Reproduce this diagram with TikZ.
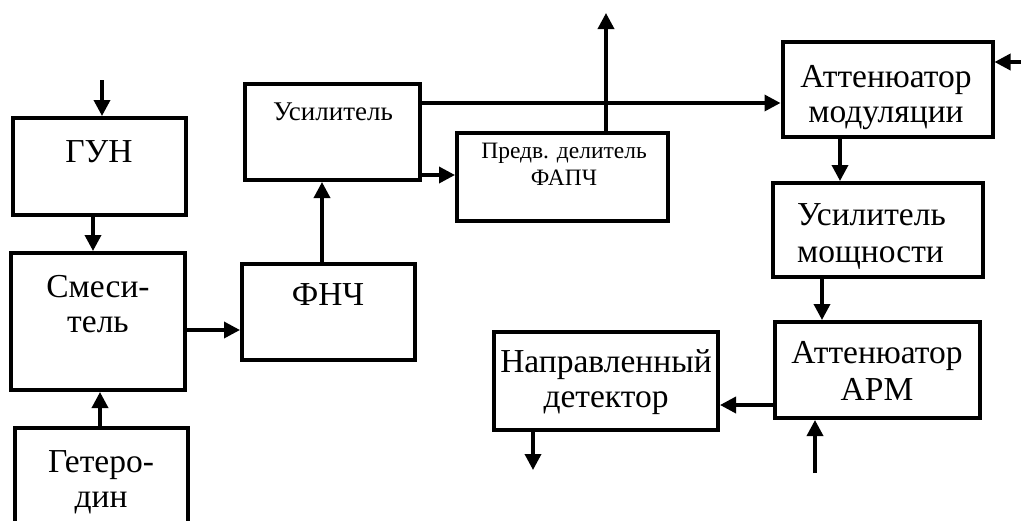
\documentclass[tikz,border=0pt]{standalone}
\usepackage{fontspec}
\setmainfont{Liberation Serif}
\usetikzlibrary{arrows.meta}
\begin{document}
\begin{tikzpicture}[x=1pt,y=-1pt,
  box/.style={draw,line width=4pt,rectangle,inner sep=0pt},
  arr/.style={line width=3.5pt,-{Triangle[length=16pt,width=16pt]}},
  big/.style={inner sep=0pt,align=center,anchor=base,font=\fontsize{33.5}{35}\selectfont},
  mid/.style={inner sep=0pt,align=center,anchor=base,font=\fontsize{27}{30}\selectfont},
  sml/.style={inner sep=0pt,align=center,anchor=base,font=\fontsize{23.5}{27}\selectfont}]
\useasboundingbox (0,0) rectangle (1021,520);
% boxes
\node[box,minimum width=173pt,minimum height=97pt] (gun) at (99.5,166.5) {};
\node[box,minimum width=174pt,minimum height=137pt] (mix) at (98,321.5) {};
\node[box,minimum width=173pt,minimum height=112pt] (het) at (101.5,484) {};
\node[box,minimum width=173pt,minimum height=96pt] (fnch) at (328.5,312) {};
\node[box,minimum width=175pt,minimum height=96pt] (usil) at (332.5,132) {};
\node[box,minimum width=211pt,minimum height=88pt] (pred) at (562.5,177) {};
\node[box,minimum width=210pt,minimum height=95pt] (attm) at (887.5,89.5) {};
\node[box,minimum width=210pt,minimum height=94pt] (um) at (878,230) {};
\node[box,minimum width=205pt,minimum height=96pt] (arm) at (877.5,370) {};
\node[box,minimum width=224pt,minimum height=98pt] (napr) at (606,381) {};
% texts (anchor = baseline of last line)
\node[big] (tgun) at (99,162) {ГУН};
\node[big] (tmix) at (98,332) {Смеси-\\тель};
\node[big] (thet) at (101,507) {Гетеро-\\дин};
\node[big] (tfnch) at (328,305) {ФНЧ};
\node[mid] (tusil) at (333,120) {Усилитель};
\node[sml] (tpred) at (564,185) {Предв. делитель\\ФАПЧ};
\node[big] (tattm) at (886,122) {Аттенюатор\\модуляции};
\node[big,align=left,anchor=base west,font=\fontsize{33.5}{37}\selectfont] (tum) at (797,262) {Усилитель\\мощности};
\node[big,font=\fontsize{33.5}{37}\selectfont] (tarm) at (877,400) {Аттенюатор\\АРМ};
\node[big] (tnapr) at (606,407) {Направленный\\детектор};
% helper coordinates
\coordinate (x93) at (93,0);
\coordinate (x100) at (100,0);
\coordinate (x322) at (322,0);
\coordinate (x822) at (822,0);
\coordinate (x840) at (840,0);
\coordinate (y103) at (0,103);
\coordinate (y175) at (0,175);
\coordinate (y330) at (0,330);
\coordinate (y405) at (0,405);
\coordinate (y62) at (0,62);
\coordinate (ingun) at (102,80);
\coordinate (outpred) at (606,13);
\coordinate (inattm) at (1021,62);
\coordinate (inarm) at (815,473);
\coordinate (outnapr) at (533,470);
% connectors
\draw[arr] (ingun) -- (ingun |- gun.north);
\draw[arr] (gun.south -| x93) -- (mix.north -| x93);
\draw[arr] (het.north -| x100) -- (mix.south -| x100);
\draw[arr] (mix.east |- y330) -- (fnch.west |- y330);
\draw[arr] (fnch.north -| x322) -- (usil.south -| x322);
\draw[arr] (usil.east |- y103) -- (attm.west |- y103);
\draw[arr] (usil.east |- y175) -- (pred.west |- y175);
\draw[arr] (pred.north -| outpred) -- (outpred);
\draw[arr] (inattm) -- (attm.east |- y62);
\draw[arr] (attm.south -| x840) -- (um.north -| x840);
\draw[arr] (um.south -| x822) -- (arm.north -| x822);
\draw[arr] (arm.west |- y405) -- (napr.east |- y405);
\draw[arr] (inarm) -- (inarm |- arm.south);
\draw[arr] (outnapr |- napr.south) -- (outnapr);
\end{tikzpicture}
\end{document}
